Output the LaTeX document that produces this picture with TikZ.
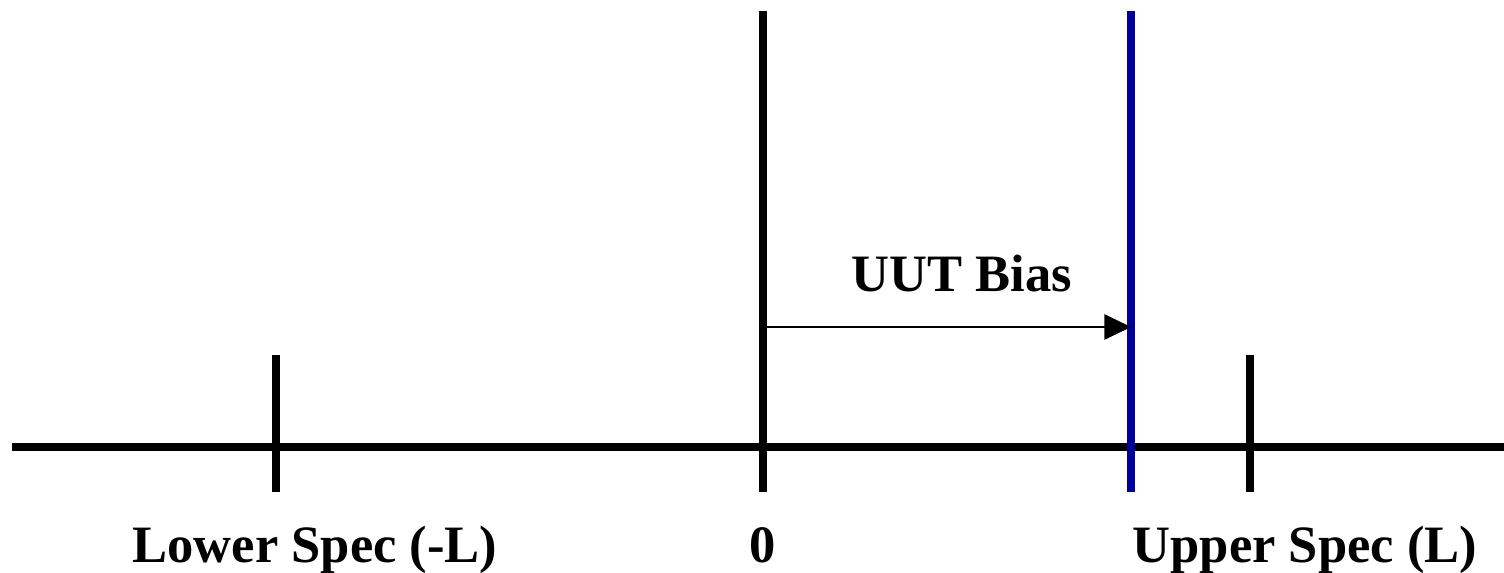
\documentclass[tikz,border=0pt]{standalone}
\usepackage{fontspec}
\setmainfont{Liberation Serif}
\usetikzlibrary{arrows.meta}
\definecolor{biasblue}{RGB}{0,0,153}

\begin{document}
\begin{tikzpicture}[x=0.75pt,y=-0.75pt,line width=6pt,every node/.style={font=\fontsize{39.4pt}{44pt}\selectfont\bfseries,anchor=base,inner sep=0pt}]
  \useasboundingbox (0,0) rectangle (1504,573);

  % Axis
  \coordinate (a0) at (12,447);
  \coordinate (a1) at (1504,447);

  % Ticks
  \coordinate (lo) at (276,355);
  \coordinate (lob) at (276,492);
  \coordinate (z) at (763,11);
  \coordinate (zb) at (763,492);
  \coordinate (up) at (1250,355);
  \coordinate (upb) at (1250,492);

  % Bias line
  \coordinate (b) at (1131,11);
  \coordinate (bb) at (1131,492);
  \coordinate (s) at (763,327);
  \coordinate (e) at (1131,327);

  % Lines
  \draw (a0)--(a1);
  \draw (lo)--(lob) (z)--(zb) (up)--(upb);
  \draw[biasblue] (b)--(bb);
  \draw[line width=1.5pt,-{Triangle[length=20pt,width=19pt]}] (s)--(e);

  % Labels
  \node (bias) at (962,292) {UUT Bias};
  \node (lolab) at (315,563) {Lower Spec (-L)};
  \node (zlab) at (763,563) {0};
  \node (uplab) at (1305,563) {Upper Spec (L)};
\end{tikzpicture}
\end{document}
